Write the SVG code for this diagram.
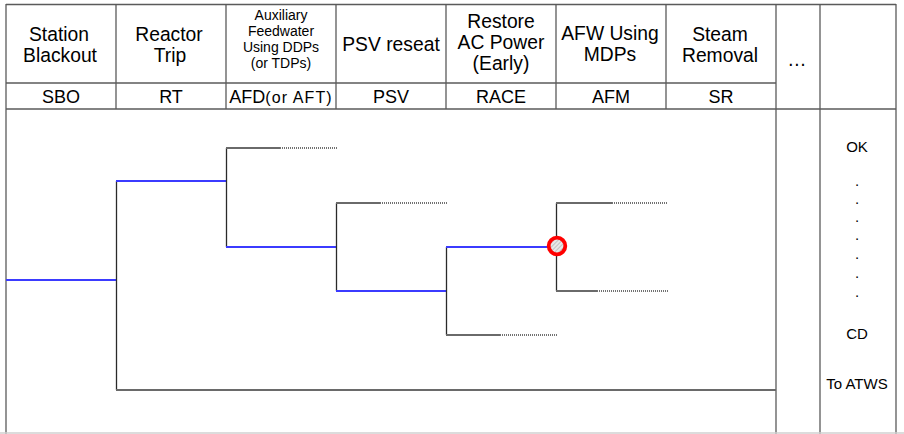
<svg xmlns="http://www.w3.org/2000/svg" width="904" height="434" viewBox="0 0 904 434">
<style>
  text { font-family: "Liberation Sans", Arial, sans-serif; fill: #000; text-anchor: middle; }
  .h { font-size: 19.3px; }
  .s { font-size: 14px; }
  .ab { font-size: 18px; }
  .r { font-size: 15px; }
  .grid { stroke: #5a5a5a; stroke-width: 1.3; fill: none; }
  .blue { stroke: #3b3bff; stroke-width: 2; fill: none; }
  .blk { stroke: #2a2a2a; stroke-width: 1.3; fill: none; }
  .sol { stroke: #6a6a6a; stroke-width: 2; fill: none; }
  .dot { stroke: #444; stroke-width: 1.5; stroke-dasharray: 1 1; fill: none; }
</style>
<defs>
  <pattern id="hatch" width="3" height="3" patternUnits="userSpaceOnUse" patternTransform="rotate(45)">
    <rect width="3" height="3" fill="#e8e8e8"/>
    <line x1="0" y1="0" x2="0" y2="3" stroke="#9a9a9a" stroke-width="1"/>
  </pattern>
</defs>
<rect width="904" height="434" fill="#fff"/>
<g id="table" class="grid">
  <line x1="6" y1="4.5" x2="896" y2="4.5"/>
  <line x1="6" y1="83" x2="776" y2="83"/>
  <line x1="6" y1="109" x2="896" y2="109"/>
  <line x1="6" y1="4" x2="6" y2="434"/>
  <line x1="116" y1="4" x2="116" y2="109"/>
  <line x1="226" y1="4" x2="226" y2="109"/>
  <line x1="336" y1="4" x2="336" y2="109"/>
  <line x1="446" y1="4" x2="446" y2="109"/>
  <line x1="556" y1="4" x2="556" y2="109"/>
  <line x1="666" y1="4" x2="666" y2="109"/>
  <line x1="776" y1="4" x2="776" y2="434"/>
  <line x1="820" y1="4" x2="820" y2="434"/>
  <line x1="896" y1="4" x2="896" y2="434"/>
  <line x1="0" y1="433" x2="904" y2="433" stroke="#d0d0d0"/>
</g>
<g id="headers">
  <text class="h" x="59" y="41">Station</text>
  <text class="h" x="60" y="62">Blackout</text>
  <text class="h" x="169" y="41">Reactor</text>
  <text class="h" x="170" y="62">Trip</text>
  <text class="s" x="281" y="20">Auxiliary</text>
  <text class="s" x="281" y="36">Feedwater</text>
  <text class="s" x="281" y="52">Using DDPs</text>
  <text class="s" x="281" y="68">(or TDPs)</text>
  <text class="h" x="391" y="51">PSV reseat</text>
  <text class="h" x="501" y="28">Restore</text>
  <text class="h" x="501" y="49">AC Power</text>
  <text class="h" x="501" y="70">(Early)</text>
  <text class="h" x="610" y="40">AFW Using</text>
  <text class="h" x="610" y="61">MDPs</text>
  <text class="h" x="720" y="41">Steam</text>
  <text class="h" x="720" y="62">Removal</text>
  <text class="h" x="797" y="66">…</text>
</g>
<g id="abbrev">
  <text class="ab" x="61" y="103">SBO</text>
  <text class="ab" x="171" y="103">RT</text>
  <text x="281" y="103"><tspan font-size="18px">AFD</tspan><tspan font-size="16px" letter-spacing="1.1">(or AFT)</tspan></text>
  <text class="ab" x="391" y="103">PSV</text>
  <text class="ab" x="501" y="103">RACE</text>
  <text class="ab" x="611" y="103">AFM</text>
  <text class="ab" x="721" y="103">SR</text>
</g>
<g id="connectors">
  <line class="blue" x1="6" y1="280" x2="116" y2="280"/>
  <line class="blk" x1="116.5" y1="181" x2="116.5" y2="390"/>
  <line class="blue" x1="116" y1="181" x2="226" y2="181"/>
  <line class="sol" x1="116" y1="390" x2="776" y2="390"/>
  <line class="blk" x1="226.5" y1="148" x2="226.5" y2="247"/>
  <line class="sol" x1="226" y1="148" x2="280" y2="148"/>
  <line class="dot" x1="280" y1="148" x2="338" y2="148"/>
  <line class="blue" x1="226" y1="247" x2="336" y2="247"/>
  <line class="blk" x1="336.5" y1="203" x2="336.5" y2="291"/>
  <line class="sol" x1="336" y1="203" x2="380" y2="203"/>
  <line class="dot" x1="380" y1="203" x2="448" y2="203"/>
  <line class="blue" x1="336" y1="291" x2="446" y2="291"/>
  <line class="blk" x1="446.5" y1="247" x2="446.5" y2="335"/>
  <line class="blue" x1="446" y1="247" x2="552" y2="247"/>
  <line class="sol" x1="446" y1="335" x2="500" y2="335"/>
  <line class="dot" x1="500" y1="335" x2="558" y2="335"/>
  <line class="blk" x1="556.5" y1="203" x2="556.5" y2="291"/>
  <line class="sol" x1="556" y1="203" x2="612" y2="203"/>
  <line class="dot" x1="612" y1="203" x2="667" y2="203"/>
  <line class="sol" x1="556" y1="291" x2="597" y2="291"/>
  <line class="dot" x1="597" y1="291" x2="668" y2="291"/>
</g>
<g id="node-race">
  <circle cx="557" cy="246" r="8.3" fill="url(#hatch)" stroke="#ff0000" stroke-width="3.8"/>
</g>
<g id="outcomes">
  <text class="r" x="857" y="152">OK</text>
  <text class="r" x="857" y="186">.</text>
  <text class="r" x="857" y="204">.</text>
  <text class="r" x="857" y="222">.</text>
  <text class="r" x="857" y="240">.</text>
  <text class="r" x="857" y="259">.</text>
  <text class="r" x="857" y="278">.</text>
  <text class="r" x="857" y="297">.</text>
  <text class="r" x="857" y="339">CD</text>
  <text class="r" x="857" y="389">To ATWS</text>
</g>
</svg>
